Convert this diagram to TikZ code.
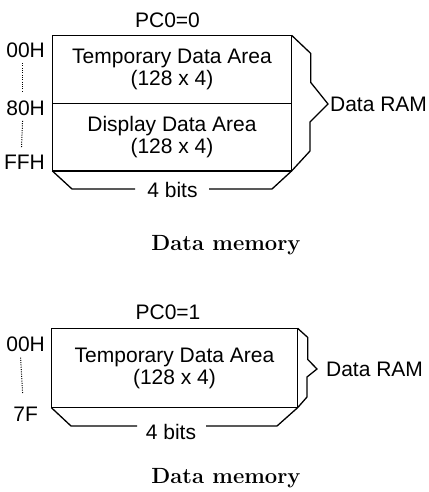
\documentclass[tikz,border=0pt]{standalone}
\usepackage{fontspec}
\newfontfamily\arialfont{Liberation Sans}

\tikzset{
  areabox/.style={inner sep=0pt, align=center,
    font=\arialfont\fontsize{21}{22}\selectfont},
  sanstext/.style={inner sep=0pt, font=\arialfont\fontsize{21}{22}\selectfont},
  addr/.style={sanstext, anchor=base east},
  memcaption/.style={inner sep=0pt, anchor=base, font=\bfseries\fontsize{22}{24}\selectfont},
  addrdots/.style={line width=1pt, dash pattern=on 1pt off 1.3pt}
}

\begin{document}
\begin{tikzpicture}[x=1pt, y=-1pt, line width=1.3pt]
    \useasboundingbox (0,0) rectangle (428,492);

    % PC0 = 0 : two areas
    \node[sanstext] (pcz) at (167.5,20) {PC0=0};
    \node[areabox, minimum width=238pt, minimum height=67pt] (tmpz) at (172,69.5) {Temporary Data Area\\(128 x 4)};
    \node[areabox, minimum width=238pt, minimum height=66pt, anchor=north] (dispz) at (tmpz.south) {Display Data Area\\(128 x 4)};
    \draw[line width=1.4pt] (tmpz.north west) rectangle (dispz.south east);
    \draw[line width=1.4pt] (tmpz.south west) -- (tmpz.south east);
    \node[addr] (az0) at (45.5,57.3) {00H};
    \node[addr] (az8) at (45.5,115) {80H};
    \node[addr] (azf) at (45.5,169.3) {FFH};
    \draw[addrdots] ([xshift=-3pt,yshift=-5pt]az0.south) -- ([xshift=-3pt,yshift=8pt]az8.north);
    \draw[addrdots] ([xshift=-3pt,yshift=-5pt]az8.south) -- ([xshift=-3pt,yshift=6pt]azf.north);
    \node[sanstext, anchor=west, inner xsep=1.5pt] (ramz) at (328,104) {Data RAM};
    \draw (tmpz.north east) -- ++(19,18) -- ++(0,29) -- (ramz.west) -- (310,122) -- (310,151) -- (dispz.south east);
    \node[sanstext] (bitsz) at (172.5,190) {4 bits};
    \draw (dispz.south west) -- (72,189) -- (135,189);
    \draw (209,189) -- (272,189) -- (dispz.south east);
    \node[memcaption] (capz) at (226,250.4) {Data memory};

    % PC0 = 1 : one area
    \node[sanstext] (pco) at (168,312.5) {PC0=1};
    \node[areabox, minimum width=245pt, minimum height=78pt] (tmpo) at (174.5,368) {Temporary Data Area\\(128 x 4)};
    \draw[line width=1.4pt] (tmpo.north west) rectangle (tmpo.south east);
    \node[addr] (ao0) at (45.5,351.7) {00H};
    \node[addr] (ao7) at (38.5,421.7) {7F};
    \draw[addrdots] ([xshift=-5pt,yshift=-5pt]ao0.south) -- ([xshift=-3pt,yshift=13pt]ao7.north);
    \node[sanstext, anchor=west, inner xsep=8.5pt] (ramo) at (317,369) {Data RAM};
    \draw (tmpo.north east) -- ++(10,9) -- ++(0,22) -- (ramo.west) -- (307,377) -- (307,397) -- (tmpo.south east);
    \node[sanstext] (bitso) at (171,432) {4 bits};
    \draw (tmpo.south west) -- (71,426) -- (137,426);
    \draw (206,426) -- (277,426) -- (tmpo.south east);
    \node[memcaption] (capo) at (226,483.4) {Data memory};
\end{tikzpicture}
\end{document}
